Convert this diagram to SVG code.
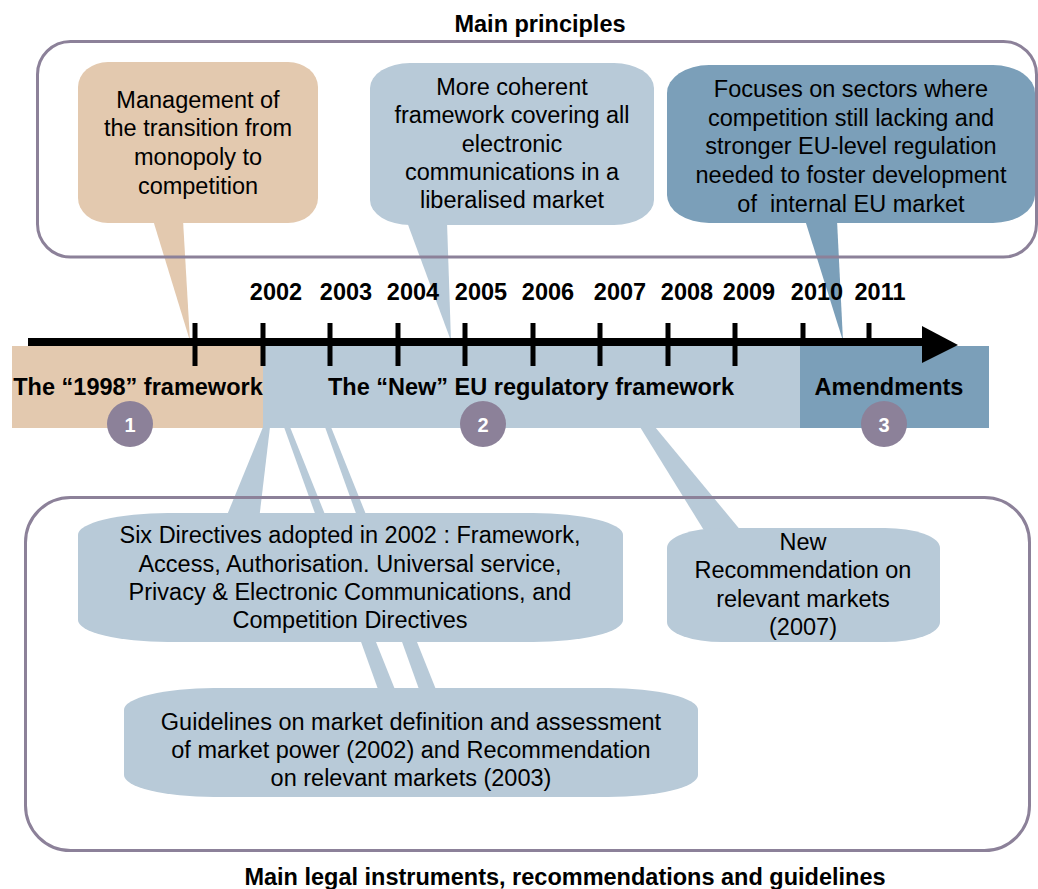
<svg xmlns="http://www.w3.org/2000/svg" width="1038" height="889" viewBox="0 0 1038 889">
<style>
.t{font-family:"Liberation Sans",Arial,sans-serif;font-size:23.5px;fill:#000;text-anchor:middle}
.b{font-family:"Liberation Sans",Arial,sans-serif;font-weight:bold;font-size:23.5px;fill:#000;text-anchor:middle}
.n{font-family:"Liberation Sans",Arial,sans-serif;font-weight:bold;font-size:20px;fill:#fff;text-anchor:middle}
.tan{fill:#e3c9af}
.lb{fill:#b8cad8}
.db{fill:#7b9fb9}
.frame{fill:none;stroke:#8c8199;stroke-width:3}
.circ{fill:#8c8199}
.tick{stroke:#000;stroke-width:5}
</style>
<rect width="1038" height="889" fill="#fff"/>
<text class="b" x="540" y="32" font-size="24">Main principles</text>
<g id="bands">
<rect class="tan" x="12" y="346" width="251" height="82"/>
<rect class="lb" x="263" y="346" width="537" height="82"/>
<rect class="db" x="800" y="346" width="189" height="82"/>
</g>
<g id="connectors">
<polygon class="tan" points="153,220 183,220 190,341"/>
<polygon class="lb" points="407,222 447,222 451,341"/>
<polygon class="db" points="805,220 837,220 843,341"/>
<polygon class="lb" points="263,427 270,427 259,520 225,520"/>
<polygon class="lb" points="284,427 290,427 396,692 379,692"/>
<polygon class="lb" points="325,427 331,427 437,692 420,692"/>
<polygon class="lb" points="640,427 655,427 742,532 705,532"/>
</g>
<g id="callout-1998">
<rect class="tan" x="78" y="62" width="240" height="161" rx="30" ry="25"/>
<text class="t" x="198" y="108">Management of</text>
<text class="t" x="198" y="136">the transition from</text>
<text class="t" x="198" y="165">monopoly to</text>
<text class="t" x="198" y="194">competition</text>
</g>
<g id="callout-new">
<rect class="lb" x="370" y="63" width="284" height="162" rx="40" ry="25"/>
<text class="t" x="512" y="95">More coherent</text>
<text class="t" x="512" y="123">framework covering all</text>
<text class="t" x="512" y="152">electronic</text>
<text class="t" x="512" y="180">communications in a</text>
<text class="t" x="512" y="208">liberalised market</text>
</g>
<g id="callout-amend">
<rect class="db" x="667" y="65" width="368" height="158" rx="42" ry="28"/>
<text class="t" x="851" y="97">Focuses on sectors where</text>
<text class="t" x="851" y="126">competition still lacking and</text>
<text class="t" x="851" y="154">stronger EU-level regulation</text>
<text class="t" x="851" y="183">needed to foster development</text>
<text class="t" x="851" y="212" style="white-space:pre">of  internal EU market</text>
</g>
<g id="six-directives">
<rect class="lb" x="78" y="513" width="545" height="129" rx="90" ry="22"/>
<text class="t" x="350" y="543">Six Directives adopted in 2002 : Framework,</text>
<text class="t" x="350" y="572">Access, Authorisation. Universal service,</text>
<text class="t" x="350" y="600">Privacy &amp; Electronic Communications, and</text>
<text class="t" x="350" y="628">Competition Directives</text>
</g>
<g id="guidelines">
<rect class="lb" x="124" y="688" width="574" height="109" rx="90" ry="22"/>
<text class="t" x="411" y="730">Guidelines on market definition and assessment</text>
<text class="t" x="411" y="758">of market power (2002) and Recommendation</text>
<text class="t" x="411" y="786">on relevant markets (2003)</text>
</g>
<g id="new-recommendation">
<rect class="lb" x="667" y="528" width="273" height="114" rx="55" ry="20"/>
<text class="t" x="803" y="550">New</text>
<text class="t" x="803" y="578">Recommendation on</text>
<text class="t" x="803" y="607">relevant markets</text>
<text class="t" x="803" y="635">(2007)</text>
</g>
<g id="frames">
<rect class="frame" x="37.5" y="41.5" width="999" height="215.5" rx="33" ry="33"/>
<rect class="frame" x="25.5" y="497.5" width="1004" height="353" rx="45" ry="45"/>
</g>
<g id="timeline">
<line x1="28" y1="342" x2="925" y2="342" stroke="#000" stroke-width="8"/>
<polygon points="922,326 958,345 922,363" fill="#000"/>
<line class="tick" x1="195" y1="323" x2="195" y2="366"/>
<line class="tick" x1="263" y1="323" x2="263" y2="366"/>
<line class="tick" x1="330" y1="323" x2="330" y2="366"/>
<line class="tick" x1="398" y1="323" x2="398" y2="366"/>
<line class="tick" x1="465" y1="323" x2="465" y2="366"/>
<line class="tick" x1="533" y1="323" x2="533" y2="366"/>
<line class="tick" x1="600" y1="323" x2="600" y2="366"/>
<line class="tick" x1="668" y1="323" x2="668" y2="366"/>
<line class="tick" x1="735" y1="323" x2="735" y2="366"/>
<line class="tick" x1="803" y1="323" x2="803" y2="342"/>
<line class="tick" x1="869" y1="323" x2="869" y2="342"/>
<text class="b" x="276" y="300">2002</text>
<text class="b" x="346" y="300">2003</text>
<text class="b" x="413" y="300">2004</text>
<text class="b" x="481" y="300">2005</text>
<text class="b" x="548" y="300">2006</text>
<text class="b" x="620" y="300">2007</text>
<text class="b" x="687" y="300">2008</text>
<text class="b" x="749" y="300">2009</text>
<text class="b" x="817" y="300">2010</text>
<text class="b" x="880" y="300">2011</text>
</g>
<g id="period-1998">
<text class="b" x="138" y="395">The “1998” framework</text>
<circle class="circ" cx="130" cy="424" r="23"/>
<text class="n" x="130" y="432">1</text>
</g>
<g id="period-new">
<text class="b" x="531" y="395">The “New” EU regulatory framework</text>
<circle class="circ" cx="483" cy="424" r="23"/>
<text class="n" x="483" y="432">2</text>
</g>
<g id="period-amend">
<text class="b" x="889" y="395">Amendments</text>
<circle class="circ" cx="884" cy="424" r="23"/>
<text class="n" x="884" y="432">3</text>
</g>
<text class="b" x="565" y="885" font-size="24">Main legal instruments, recommendations and guidelines</text>
</svg>
